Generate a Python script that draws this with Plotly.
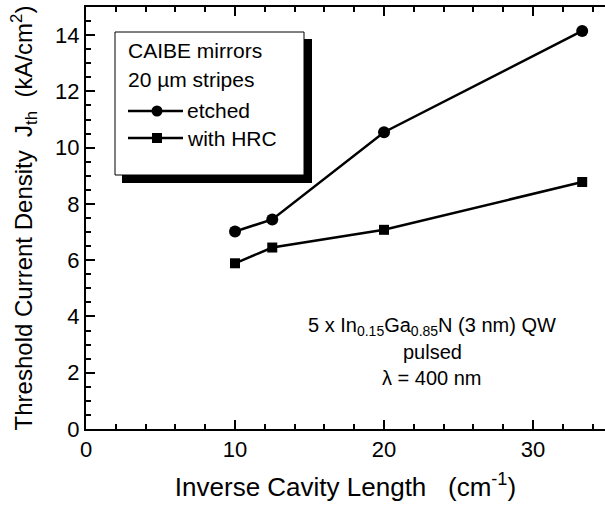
import plotly.graph_objects as go

# Data
inv_length = [10.0, 12.5, 20.0, 33.3]
etched = [7.02, 7.45, 10.55, 14.15]
with_hrc = [5.89, 6.45, 7.08, 8.78]

x_ticks = [0, 10, 20, 30]
y_ticks = [0, 2, 4, 6, 8, 10, 12, 14]

FONT = "Liberation Sans, Arial, Helvetica, sans-serif"
W, H = 605, 509
L, R, T, B = 86, 0, 7, 80
PW, PH = W - L - R, H - T - B


def px(x):
    return (x - L) / PW


def py(y):
    return (H - B - y) / PH


fig = go.Figure()
fig.add_trace(go.Scatter(x=inv_length, y=etched, mode="lines+markers",
                         line=dict(color="black", width=2.5),
                         marker=dict(symbol="circle", size=12, color="black"),
                         showlegend=False))
fig.add_trace(go.Scatter(x=inv_length, y=with_hrc, mode="lines+markers",
                         line=dict(color="black", width=2.5),
                         marker=dict(symbol="square", size=10, color="black"),
                         showlegend=False))

shapes = []
# legend shadow and box
shapes.append(dict(type="rect", xref="paper", yref="paper",
                   x0=px(122), x1=px(312), y0=py(183), y1=py(39),
                   fillcolor="black", line=dict(width=0), layer="above"))
shapes.append(dict(type="rect", xref="paper", yref="paper",
                   x0=px(115), x1=px(304), y0=py(175), y1=py(32),
                   fillcolor="white", line=dict(color="black", width=1), layer="above"))
# legend glyphs
for yy, sym in [(111, "circle"), (138, "square")]:
    shapes.append(dict(type="line", xref="paper", yref="paper",
                       x0=px(128), x1=px(183), y0=py(yy), y1=py(yy),
                       line=dict(color="black", width=2.5), layer="above"))
    s = 5.5 if sym == "circle" else 5
    shapes.append(dict(type="circle" if sym == "circle" else "rect",
                       xref="paper", yref="paper",
                       xsizemode="pixel", ysizemode="pixel",
                       xanchor=px(157), yanchor=py(yy),
                       x0=-s, x1=s, y0=-s, y1=s,
                       fillcolor="black", line=dict(width=0), layer="above"))

ann = []
def add_text(text, x, y, size=21, xanchor="left"):
    ann.append(dict(text=text, xref="paper", yref="paper", x=px(x), y=py(y),
                    xanchor=xanchor, yanchor="middle", showarrow=False,
                    font=dict(family=FONT, size=size, color="black")))

add_text("CAIBE mirrors", 126, 51)
add_text("20 µm stripes", 126, 80)
add_text("etched", 185, 110)
add_text("with HRC", 185, 138)
add_text("5 x In<sub>0.15</sub>Ga<sub>0.85</sub>N (3 nm) QW", 432, 326, size=20, xanchor="center")
add_text("pulsed", 432, 352, size=20, xanchor="center")
add_text("λ = 400 nm", 432, 378, size=20, xanchor="center")

fig.update_layout(
    width=W, height=H,
    margin=dict(l=L, r=R, t=T, b=B),
    paper_bgcolor="white", plot_bgcolor="white",
    font=dict(family=FONT, size=22, color="black"),
    shapes=shapes, annotations=ann,
    xaxis=dict(range=[0, 34.83], tickvals=x_ticks, ticks="inside", ticklen=9,
               tickwidth=1.5, tickcolor="black", showline=True, linecolor="black",
               linewidth=2, mirror="ticks", showgrid=False, zeroline=False,
               minor=dict(dtick=2, tick0=0, ticks="inside", ticklen=5, tickwidth=1.5,
                          tickcolor="black", showgrid=False),
               title=dict(text="Inverse Cavity Length   (cm<sup>-1</sup>)",
                          font=dict(size=26), standoff=16),
               tickfont=dict(size=22)),
    yaxis=dict(range=[0, 15], tickvals=y_ticks, ticks="inside", ticklen=9,
               tickwidth=1.5, tickcolor="black", showline=True, linecolor="black",
               linewidth=2, mirror=False, showgrid=False, zeroline=False,
               minor=dict(dtick=0.5, tick0=0, ticks="inside", ticklen=5, tickwidth=1.5,
                          tickcolor="black", showgrid=False),
               title=dict(text="Threshold Current Density  J<sub>th</sub>  (kA/cm<sup>2</sup>)",
                          font=dict(size=24), standoff=16),
               tickfont=dict(size=22)),
    yaxis2=dict(overlaying="y", side="right", matches="y", range=[0, 15],
                tickvals=y_ticks, ticks="inside", ticklen=9, tickwidth=1.5,
                tickcolor="black", showline=False, showticklabels=False,
                showgrid=False, zeroline=False,
                minor=dict(dtick=0.5, tick0=0, ticks="inside", ticklen=5,
                           tickwidth=1.5, tickcolor="black", showgrid=False)),
)

fig.write_html("out.html")
